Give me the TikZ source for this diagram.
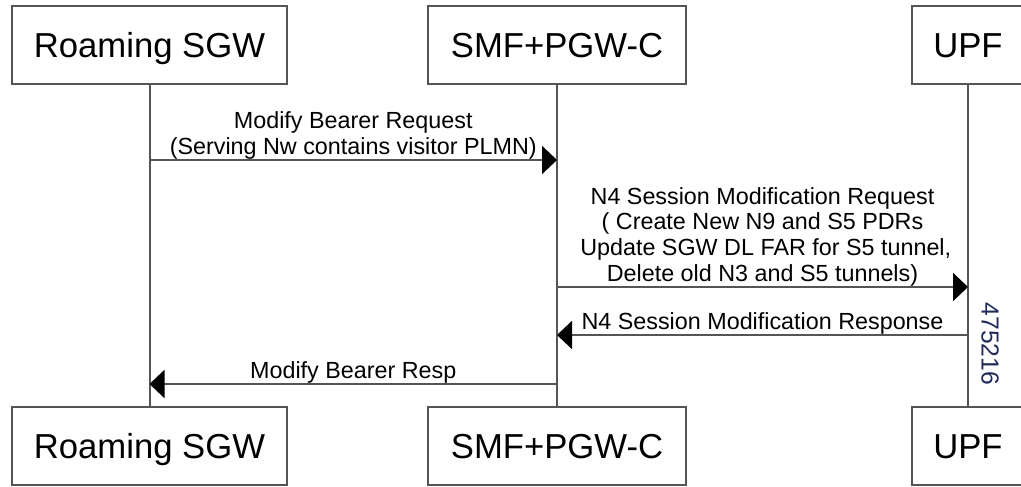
\documentclass[tikz,border=0pt]{standalone}
\usepackage{fontspec}
\setmainfont{Liberation Sans}
\usetikzlibrary{arrows.meta}
\definecolor{linegray}{HTML}{555555}
\definecolor{idblue}{HTML}{1F2A5A}
\tikzset{
  >={Triangle[length=11.25pt,width=21pt,color=black]},
  entity/.style={draw=linegray, line width=1.5pt, minimum height=58.5pt,
    inner sep=0pt, text height=18.5pt, text depth=0pt,
    font=\fontsize{26}{30}\selectfont},
  life/.style={draw=linegray, line width=1.5pt},
  msg/.style={draw=linegray, line width=1.5pt, ->},
  msgtext/.style={font=\fontsize{17.5}{19.2}\selectfont, align=center,
    anchor=south, inner sep=0pt},
}

\begin{document}
\begin{tikzpicture}[x=0.75pt,y=-0.75pt]
  \useasboundingbox (0,0) rectangle (1021,486);

  % entities, top and bottom
  \node[entity, minimum width=206.25pt] (sgwT) at (149.5,45) {Roaming SGW};
  \node[entity, minimum width=193.5pt]  (smfT) at (557,45)   {SMF+PGW-C};
  \node[entity, minimum width=84pt]     (upfT) at (968,45)   {UPF};

  \node[entity, minimum width=206.25pt] (sgwB) at (149.5,446) {Roaming SGW};
  \node[entity, minimum width=193.5pt]  (smfB) at (557,446)   {SMF+PGW-C};
  \node[entity, minimum width=84pt]     (upfB) at (968,446)   {UPF};

  % lifelines
  \draw[life] (sgwT) -- (sgwB);
  \draw[life] (smfT) -- (smfB);
  \draw[life] (upfT) -- (upfB);

  % message ends
  \coordinate (m1a) at (149.5,160);
  \coordinate (m1b) at (557,160);
  \coordinate (m2a) at (557,287);
  \coordinate (m2b) at (968,287);
  \coordinate (m3a) at (968,335);
  \coordinate (m3b) at (557,335);
  \coordinate (m4a) at (557,384);
  \coordinate (m4b) at (149.5,384);

  \draw[msg] (m1a) -- node[msgtext] (t1)
    {Modify Bearer Request\\(Serving Nw contains visitor PLMN)} (m1b);
  \draw[msg] (m2a) -- node[msgtext] (t2)
    {N4 Session Modification Request\\( Create New N9 and S5 PDRs\\
     \ Update SGW DL FAR for S5 tunnel,\\Delete old N3 and S5 tunnels)} (m2b);
  \draw[msg] (m3a) -- node[msgtext] (t3)
    {N4 Session Modification Response} (m3b);
  \draw[msg] (m4a) -- node[msgtext] (t4) {Modify Bearer Resp} (m4b);

  \node[rotate=-90, text=idblue, font=\fontsize{18.5}{20}\selectfont] (figid)
    at (990,344) {475216};

\end{tikzpicture}
\end{document}
